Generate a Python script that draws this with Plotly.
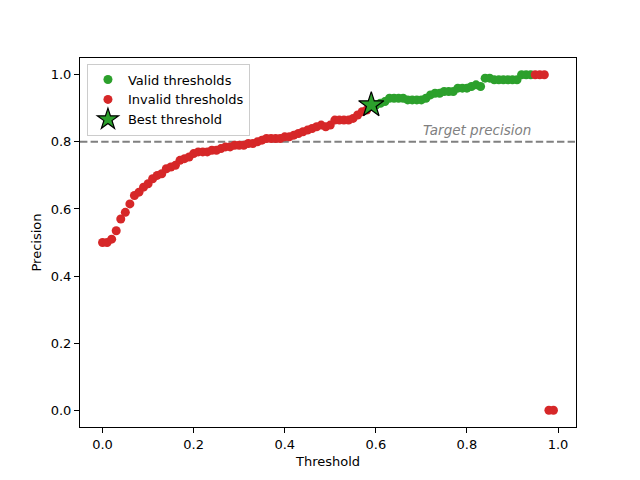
import plotly.graph_objects as go

thresholds = [0.00, 0.01, 0.02, 0.03, 0.04, 0.05, 0.06, 0.07, 0.08, 0.09,
              0.10, 0.11, 0.12, 0.13, 0.14, 0.15, 0.16, 0.17, 0.18, 0.19,
              0.20, 0.21, 0.22, 0.23, 0.24, 0.25, 0.26, 0.27, 0.28, 0.29,
              0.30, 0.31, 0.32, 0.33, 0.34, 0.35, 0.36, 0.37, 0.38, 0.39,
              0.40, 0.41, 0.42, 0.43, 0.44, 0.45, 0.46, 0.47, 0.48, 0.49,
              0.50, 0.51, 0.52, 0.53, 0.54, 0.55, 0.56, 0.57, 0.58, 0.59,
              0.60, 0.61, 0.62, 0.63, 0.64, 0.65, 0.66, 0.67, 0.68, 0.69,
              0.70, 0.71, 0.72, 0.73, 0.74, 0.75, 0.76, 0.77, 0.78, 0.79,
              0.80, 0.81, 0.82, 0.83, 0.84, 0.85, 0.86, 0.87, 0.88, 0.89,
              0.90, 0.91, 0.92, 0.93, 0.94, 0.95, 0.96, 0.97, 0.98, 0.99]

precision = [0.500, 0.500, 0.510, 0.535, 0.570, 0.590, 0.615, 0.640, 0.650, 0.665,
             0.675, 0.690, 0.700, 0.705, 0.720, 0.725, 0.730, 0.745, 0.750, 0.755,
             0.765, 0.770, 0.770, 0.770, 0.775, 0.775, 0.780, 0.785, 0.785, 0.790,
             0.790, 0.790, 0.795, 0.795, 0.800, 0.805, 0.810, 0.810, 0.810, 0.810,
             0.815, 0.815, 0.820, 0.825, 0.830, 0.835, 0.840, 0.845, 0.850, 0.845,
             0.850, 0.865, 0.865, 0.865, 0.865, 0.870, 0.880, 0.890, 0.895, 0.910,
             0.910, 0.915, 0.920, 0.930, 0.930, 0.930, 0.930, 0.925, 0.925, 0.925,
             0.925, 0.930, 0.940, 0.945, 0.945, 0.950, 0.950, 0.950, 0.960, 0.960,
             0.960, 0.965, 0.970, 0.965, 0.990, 0.990, 0.985, 0.985, 0.985, 0.985,
             0.985, 0.985, 1.000, 1.000, 1.000, 1.000, 1.000, 1.000, 0.000, 0.000]

valid = [False] * 59 + [True] * 36 + [False] * 5

target_precision = 0.8
best_threshold = 0.59
best_precision = 0.91

tick_vals = [0.0, 0.2, 0.4, 0.6, 0.8, 1.0]
tick_text = ["0.0", "0.2", "0.4", "0.6", "0.8", "1.0"]

GREEN = "#2ca02c"
RED = "#d62728"

valid_x = [t for t, v in zip(thresholds, valid) if v]
valid_y = [p for p, v in zip(precision, valid) if v]
invalid_x = [t for t, v in zip(thresholds, valid) if not v]
invalid_y = [p for p, v in zip(precision, valid) if not v]

fig = go.Figure()
fig.add_trace(go.Scatter(x=valid_x, y=valid_y, mode="markers", name="Valid thresholds",
                         marker=dict(color=GREEN, size=9, line=dict(width=0))))
fig.add_trace(go.Scatter(x=invalid_x, y=invalid_y, mode="markers", name="Invalid thresholds",
                         marker=dict(color=RED, size=9, line=dict(width=0))))
fig.add_trace(go.Scatter(x=[best_threshold], y=[best_precision], mode="markers",
                         name="Best threshold",
                         marker=dict(color=GREEN, size=19, symbol="star",
                                     line=dict(color="black", width=1.2))))

fig.add_shape(type="line", xref="paper", x0=0, x1=1, yref="y",
              y0=target_precision, y1=target_precision,
              line=dict(color="gray", width=2, dash="7.4px,3.2px"), layer="below")
fig.add_annotation(x=0.7, y=target_precision + 0.005, xref="x", yref="y",
                   text="<i>Target precision</i>", showarrow=False,
                   xanchor="left", yanchor="bottom",
                   font=dict(color="gray", size=13.5))

axis_common = dict(showline=True, linecolor="black", linewidth=1, mirror=True,
                   ticks="outside", ticklen=5, tickcolor="black", showgrid=False,
                   zeroline=False, tickfont=dict(size=13, color="black"))

fig.update_xaxes(range=[-0.0495, 1.0395], tickvals=tick_vals, ticktext=tick_text,
                 title=dict(text="Threshold", font=dict(size=13, color="black"), standoff=6),
                 **axis_common)
fig.update_yaxes(range=[-0.05, 1.05], tickvals=tick_vals, ticktext=tick_text,
                 title=dict(text="Precision", font=dict(size=13, color="black"), standoff=6),
                 **axis_common)

fig.update_layout(
    width=640, height=480,
    margin=dict(l=80, r=64, t=58, b=53),
    plot_bgcolor="white", paper_bgcolor="white",
    font=dict(family="DejaVu Sans", size=13, color="black"),
    showlegend=True,
    legend=dict(x=0.014, y=0.985, xanchor="left", yanchor="top",
                bordercolor="#cccccc", borderwidth=1, bgcolor="rgba(255,255,255,0.8)",
                font=dict(size=13), itemsizing="trace", tracegroupgap=0),
)

fig.write_html("out.html")
